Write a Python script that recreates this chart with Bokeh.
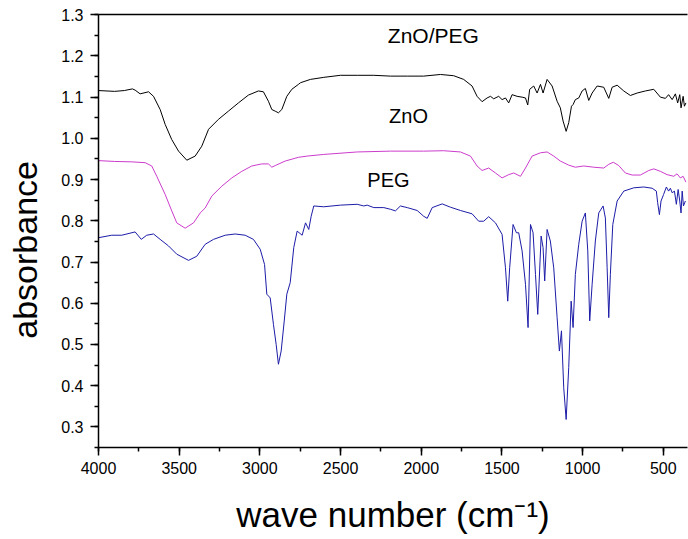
from bokeh.plotting import figure
from bokeh.models import Range1d, LinearAxis, SingleIntervalTicker, FixedTicker, Label, NumeralTickFormatter
from bokeh.embed import file_html
from bokeh.resources import INLINE

# ZnO/PEG (black)
znopeg_x = [4000, 3900, 3840, 3790, 3773, 3742, 3690, 3659, 3618, 3587, 3546, 3504, 3453, 3401, 3360,
            3318, 3257, 3195, 3133, 3071, 3009, 2978, 2947, 2926, 2905, 2885, 2864, 2833, 2802, 2761,
            2748, 2687, 2604, 2501, 2397, 2294, 2191, 2087, 1985, 1881, 1799, 1737, 1685, 1654, 1623,
            1592, 1571, 1551, 1520, 1499, 1478, 1458, 1437, 1406, 1375, 1354, 1340, 1328, 1303, 1282,
            1261, 1245, 1220, 1189, 1158, 1138, 1121, 1102, 1086, 1069, 1059, 1045, 1024, 1003, 983,
            962, 941, 910, 869, 838, 817, 786, 745, 704, 662, 611, 559, 518, 487, 467, 445, 425, 411,
            398, 390, 377, 369, 360]
znopeg_y = [1.116, 1.114, 1.116, 1.120, 1.117, 1.108, 1.113, 1.102, 1.070, 1.034, 0.997, 0.969, 0.947, 0.957, 0.981,
            1.022, 1.046, 1.066, 1.086, 1.105, 1.115, 1.113, 1.090, 1.070, 1.066, 1.062, 1.070, 1.102, 1.119, 1.131,
            1.135, 1.143, 1.148, 1.153, 1.153, 1.153, 1.151, 1.151, 1.151, 1.155, 1.152, 1.143, 1.127, 1.102, 1.089,
            1.098, 1.102, 1.096, 1.102, 1.094, 1.098, 1.086, 1.106, 1.102, 1.100, 1.098, 1.081, 1.119, 1.127, 1.110,
            1.131, 1.110, 1.143, 1.127, 1.090, 1.074, 1.042, 1.017, 1.038, 1.078, 1.082, 1.094, 1.098, 1.115, 1.121,
            1.092, 1.110, 1.127, 1.124, 1.097, 1.124, 1.129, 1.115, 1.104, 1.110, 1.115, 1.119, 1.100, 1.097, 1.106, 1.094, 1.108, 1.086,
            1.106, 1.074, 1.102, 1.078, 1.086]

# ZnO (magenta)
zno_x = [4000, 3900, 3794, 3711, 3670, 3639, 3587, 3546, 3515, 3463, 3411, 3370, 3339, 3298, 3236,
         3174, 3112, 3050, 2988, 2947, 2926, 2905, 2843, 2761, 2707, 2604, 2397, 2191, 1985, 1861,
         1757, 1695, 1654, 1623, 1582, 1540, 1499, 1458, 1427, 1385, 1354, 1313, 1261, 1220, 1179,
         1138, 1086, 1045, 993, 931, 869, 838, 810, 776, 735, 693, 642, 590, 559, 518, 477, 435,
         415, 394, 377, 360]
zno_y = [0.946, 0.944, 0.943, 0.941, 0.933, 0.908, 0.864, 0.824, 0.795, 0.782, 0.795, 0.819, 0.831, 0.860, 0.884,
         0.904, 0.920, 0.933, 0.938, 0.938, 0.930, 0.934, 0.945, 0.954, 0.957, 0.961, 0.967, 0.969, 0.969, 0.970,
         0.967, 0.957, 0.933, 0.922, 0.928, 0.916, 0.904, 0.912, 0.916, 0.908, 0.928, 0.957, 0.965, 0.967, 0.957,
         0.945, 0.935, 0.930, 0.933, 0.930, 0.928, 0.937, 0.942, 0.934, 0.916, 0.911, 0.911, 0.922, 0.926, 0.920, 0.912, 0.908,
         0.914, 0.904, 0.908, 0.894]

# PEG (blue)
peg_x = [4000, 3918, 3856, 3773, 3735, 3701, 3659, 3618, 3566, 3515, 3442, 3391, 3339, 3287, 3215,
         3153, 3091, 3040, 2998, 2971, 2957, 2936, 2916, 2899, 2885, 2868, 2849, 2833, 2812, 2790,
         2769, 2738, 2717, 2697, 2682, 2666, 2604, 2501, 2397, 2356, 2335, 2294, 2232, 2191, 2160,
         2129, 2087, 2025, 1985, 1963, 1932, 1870, 1819, 1757, 1685, 1644, 1613, 1582, 1540, 1499,
         1478, 1464, 1452, 1431, 1410, 1396, 1375, 1354, 1338, 1323, 1307, 1292, 1278, 1257, 1245,
         1235, 1220, 1200, 1179, 1158, 1144, 1131, 1117, 1102, 1086, 1071, 1059, 1045, 1024, 1003,
         983, 968, 956, 941, 921, 900, 873, 859, 848, 838, 828, 813, 786, 745, 683, 621, 569, 543,
         535, 524, 514, 498, 481, 467, 456, 445, 431, 419, 408, 398, 390, 383, 375, 363]
peg_y = [0.759, 0.765, 0.765, 0.773, 0.755, 0.765, 0.768, 0.755, 0.739, 0.719, 0.704, 0.714, 0.743, 0.755, 0.765,
         0.768, 0.765, 0.755, 0.731, 0.694, 0.622, 0.613, 0.549, 0.500, 0.452, 0.484, 0.557, 0.622, 0.650, 0.735,
         0.775, 0.765, 0.795, 0.779, 0.811, 0.836, 0.834, 0.838, 0.840, 0.836, 0.838, 0.832, 0.832, 0.828, 0.824,
         0.836, 0.832, 0.825, 0.811, 0.806, 0.832, 0.841, 0.833, 0.825, 0.817, 0.799, 0.799, 0.810, 0.795, 0.767,
         0.686, 0.605, 0.686, 0.791, 0.771, 0.771, 0.727, 0.646, 0.541, 0.791, 0.771, 0.670, 0.573, 0.763, 0.735,
         0.654, 0.779, 0.751, 0.686, 0.565, 0.484, 0.533, 0.395, 0.318, 0.444, 0.605, 0.541, 0.670, 0.743, 0.799,
         0.819, 0.727, 0.557, 0.646, 0.751, 0.819, 0.836, 0.807, 0.686, 0.565, 0.670, 0.791, 0.848, 0.872, 0.880, 0.882, 0.879, 0.872,
         0.844, 0.815, 0.848, 0.864, 0.882, 0.872, 0.879, 0.868, 0.872, 0.840, 0.876, 0.848, 0.819, 0.872, 0.836, 0.848]

series_names = ["ZnO/PEG", "ZnO", "PEG"]
series_label_x = [1925, 2079, 2203]
series_label_y = [1.250, 1.055, 0.899]
series_label_size = ["21px", "20px", "20px"]

x_title = "wave number (cm\u207b\u00b9)"
y_title = "absorbance"

FONT = "Liberation Sans"

p = figure(width=688, height=539, output_backend="svg", toolbar_location=None,
           x_range=Range1d(4000, 350), y_range=Range1d(0.25, 1.3005),
           min_border_left=98, min_border_right=1, min_border_top=14, min_border_bottom=92)
p.background_fill_color = "white"
p.border_fill_color = "white"
p.outline_line_color = None
p.grid.visible = False

p.line(znopeg_x, znopeg_y, line_color="black", line_width=1)
p.line(zno_x, zno_y, line_color="#cc3ccc", line_width=1)
p.line(peg_x, peg_y, line_color="#1c1ca8", line_width=1)

for ax in (p.xaxis[0], p.yaxis[0]):
    ax.axis_line_width = 1.5
    ax.major_tick_line_width = 1.5
    ax.minor_tick_line_width = 1.5
    ax.major_tick_in = 0
    ax.major_tick_out = 8
    ax.minor_tick_in = 0
    ax.minor_tick_out = 4
    ax.major_label_text_font = FONT
    ax.major_label_text_font_size = "16px"
    ax.major_label_text_color = "black"
    ax.axis_line_color = "black"
    ax.major_tick_line_color = "black"
    ax.minor_tick_line_color = "black"
    ax.axis_label_text_font = FONT
    ax.axis_label_text_font_style = "normal"
    ax.axis_label_text_color = "black"

p.xaxis.ticker = SingleIntervalTicker(interval=500, num_minor_ticks=2)
p.yaxis.ticker = SingleIntervalTicker(interval=0.1, num_minor_ticks=2)
p.yaxis.formatter = NumeralTickFormatter(format="0.0")
p.yaxis.major_label_standoff = 7
p.xaxis.major_label_standoff = 6

p.xaxis.axis_label = x_title
p.xaxis.axis_label_text_font_size = "35px"
p.xaxis.axis_label_standoff = 18
p.yaxis.axis_label = y_title + "\u00a0" * 4
p.yaxis.axis_label_text_font_size = "34px"
p.yaxis.axis_label_standoff = 14

top = LinearAxis(ticker=FixedTicker(ticks=[]), axis_line_width=1.5, axis_line_color="black",
                 major_tick_line_color=None, minor_tick_line_color=None,
                 major_label_text_font_size="0px", major_label_standoff=0)
p.add_layout(top, "above")

for name, lx, ly, fs in zip(series_names, series_label_x, series_label_y, series_label_size):
    p.add_layout(Label(x=lx, y=ly, text=name, text_font=FONT, text_font_size=fs,
                       text_align="center", text_baseline="middle", text_color="black"))

open("out.html", "w").write(file_html(p, INLINE))
